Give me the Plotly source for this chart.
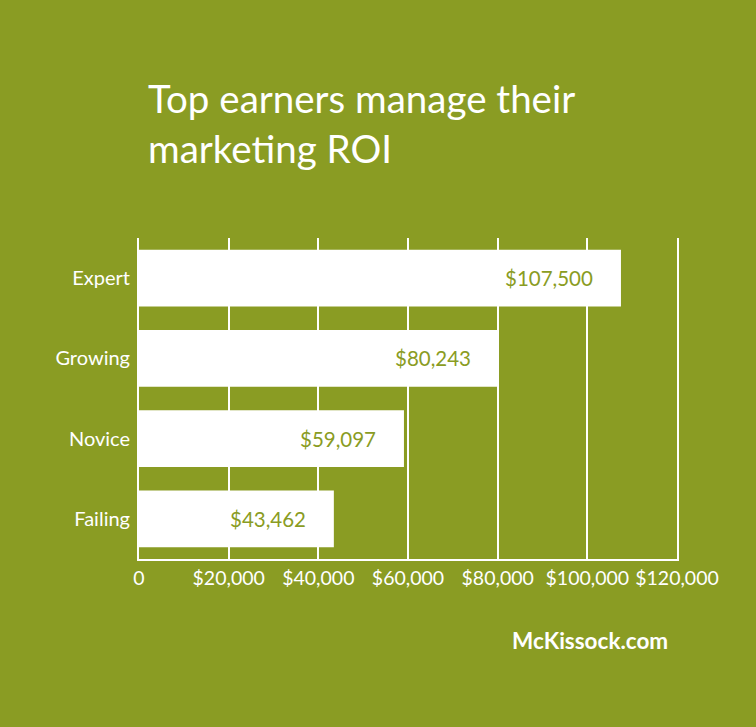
import plotly.graph_objects as go

categories = ["Expert", "Growing", "Novice", "Failing"]
values = [107500, 80243, 59097, 43462]
value_labels = ["$107,500", "$80,243", "$59,097", "$43,462"]
tick_vals = [0, 20000, 40000, 60000, 80000, 100000, 120000]
tick_text = ["0", "$20,000", "$40,000", "$60,000", "$80,000", "$100,000", "$120,000"]
title_lines = ["Top earners manage their", "marketing ROI"]
source = "McKissock.com"

BG = "#8A9C23"
FONT = "Lato"

fig = go.Figure()
fig.add_trace(go.Bar(
    x=values, y=categories, orientation="h",
    marker=dict(color="white", line=dict(width=0)),
    width=0.71, hoverinfo="skip",
))

for c, v, t in zip(categories, values, value_labels):
    fig.add_annotation(x=v, y=c, xref="x", yref="y", text=t, showarrow=False,
                       xanchor="right", yanchor="middle", xshift=-26,
                       font=dict(family=FONT, size=20.5, color=BG))

fig.update_layout(
    width=756, height=727,
    paper_bgcolor=BG, plot_bgcolor=BG,
    margin=dict(l=139, r=79, t=238, b=168),
    showlegend=False,
    bargap=0.29,
    xaxis=dict(range=[0, 120000], tickvals=tick_vals, ticktext=tick_text,
               showgrid=True, gridcolor="white", gridwidth=2,
               zeroline=False, showline=True, linecolor="white", linewidth=2,
               tickfont=dict(family=FONT, size=19.5, color="white"),
               ticklabelstandoff=1, fixedrange=True),
    yaxis=dict(categoryorder="array", categoryarray=categories[::-1],
               range=[-0.5, 3.5], showgrid=False, zeroline=False,
               showline=True, mirror=True, linecolor="white", linewidth=2,
               tickfont=dict(family=FONT, size=20, color="white"),
               ticklabelstandoff=3, fixedrange=True),
)

pw, ph = 756 - 139 - 79, 727 - 238 - 168
def px(x):
    return (x - 139) / pw
def py(y):
    return (727 - 168 - y) / ph

for line, yc in zip(title_lines, [98, 148]):
    fig.add_annotation(x=px(146), y=py(yc), xref="paper", yref="paper", text=line,
                       showarrow=False, xanchor="left", yanchor="middle",
                       font=dict(family=FONT, size=38.5, color="white"))
fig.add_annotation(x=px(670), y=py(640), xref="paper", yref="paper",
                   text="<b>" + source + "</b>", showarrow=False,
                   xanchor="right", yanchor="middle",
                   font=dict(family=FONT, size=22.5, color="white"))

fig.write_html("out.html")
